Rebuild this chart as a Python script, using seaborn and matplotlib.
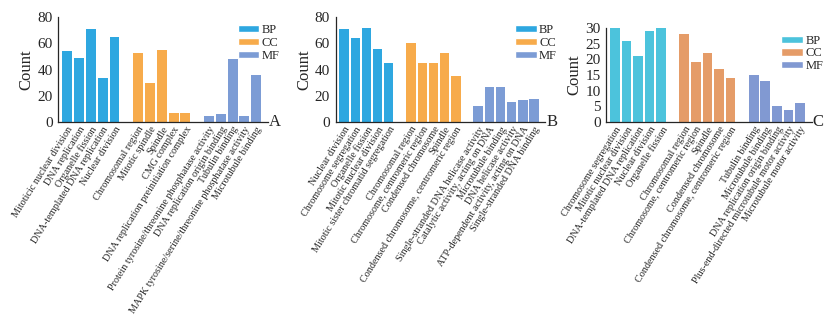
import matplotlib
matplotlib.use("Agg")
import matplotlib.pyplot as plt
import numpy as np
import pandas as pd
import seaborn as sns
from matplotlib.patches import Patch

# panel A
a_bp_terms = ["Mitoticic nuclear division", "DNA replication", "Organelle fission",
              "DNA-templated DNA replication", "Nuclear division"]
a_bp_counts = [54, 49, 71, 34, 65]
a_cc_terms = ["Chromosomal region", "Mitotic spindle", "Spindle", "CMG complex",
              "DNA replication preinitiation complex"]
a_cc_counts = [53, 30, 55, 7, 7]
a_mf_terms = ["Protein tyrosine/threonine phosphatase activity", "DNA replication origin binding",
              "Tubulin binding", "MAPK tyrosine/serine/threonine phosphatase activity",
              "Microtubule binding"]
a_mf_counts = [5, 6, 48, 5, 36]

# panel B
b_bp_terms = ["Nuclear division", "Chromosome segregation", "Organelle fission",
              "Mitotic nuclear division", "Mitotic sister chromatid segregation"]
b_bp_counts = [71, 64, 72, 56, 45]
b_cc_terms = ["Chromosomal region", "Chromosome, centromeric region", "Condensed chromosome",
              "Spindle", "Condensed chromosome, centromeric region"]
b_cc_counts = [60, 45, 45, 53, 35]
b_mf_terms = ["Single-stranded DNA helicase activity", "Catalytic activity, acting on DNA",
              "Microtubule binding", "DNA helicase activity",
              "ATP-dependent activity, acting on DNA", "Single-stranded DNA binding"]
b_mf_counts = [12, 27, 27, 15, 17, 18]

# panel C
c_bp_terms = ["Chromosome segregation", "Mitotic nuclear division", "DNA-templated DNA replication",
              "Nuclear division", "Organelle fission"]
c_bp_counts = [30, 26, 21, 29, 30]
c_cc_terms = ["Chromosomal region", "Chromosome, centromeric region", "Spindle",
              "Condensed chromosome", "Condensed chromosome, centromeric region"]
c_cc_counts = [28, 19, 22, 17, 14]
c_mf_terms = ["Tubulin binding", "Microtubule binding", "DNA replication origin binding",
              "Plus-end-directed microtubule motor activity", "Microtubule motor activity"]
c_mf_counts = [15, 13, 5, 4, 6]

PAL_AB = {"BP": "#2ea7e0", "CC": "#f7ab4b", "MF": "#7c9cd5"}
PAL_C = {"BP": "#4cc3dc", "CC": "#e59c68", "MF": "#8199d2"}


def build_frame(groups):
    rows = []
    pos = 0
    for name, terms, counts in groups:
        for t, c in zip(terms, counts):
            rows.append({"pos": pos, "term": t, "count": c, "group": name})
            pos += 1
        pos += 1  # gap between ontologies
    return pd.DataFrame(rows)


def draw_panel(ax, df, palette, ymax, step, letter):
    slots = list(range(df["pos"].max() + 1))
    sns.barplot(data=df, x="pos", y="count", hue="group", palette=palette,
                order=slots, dodge=False, width=0.84, saturation=1, linewidth=0,
                legend=False, ax=ax)
    labels = dict(zip(df["pos"], df["term"]))
    ax.set_xticks(slots)
    ax.set_xticklabels([labels.get(p, "") for p in slots], rotation=58, ha="right",
                       rotation_mode="anchor", fontsize=7.3)
    ax.tick_params(axis="x", length=0, pad=2)
    ax.tick_params(axis="y", labelsize=11, length=3, direction="out", pad=1)
    ax.set_yticks(np.arange(0, ymax + 1, step))
    ax.set_ylim(0, ymax)
    ax.set_xlim(-0.75, slots[-1] + 1.0)
    ax.set_xlabel("")
    ax.set_ylabel("Count", fontsize=12, labelpad=2)
    sns.despine(ax=ax)
    for s in ["left", "bottom"]:
        ax.spines[s].set_linewidth(0.9)
    handles = [Patch(facecolor=palette[k], label=k) for k in ["BP", "CC", "MF"]]
    ax.legend(handles=handles, loc="upper right", bbox_to_anchor=(1.08, 0.98),
              frameon=False, fontsize=9, handlelength=1.7, handleheight=0.5,
              handletextpad=0.2, labelspacing=0.05, borderaxespad=0)
    ax.text(1.005, 0.0, letter, transform=ax.transAxes, fontsize=12,
            ha="left", va="center")


sns.set_style("white")
plt.rcParams["font.family"] = ["Liberation Serif", "DejaVu Serif"]

fig = plt.figure(figsize=(8.35, 3.18), dpi=100)
ax_a = fig.add_axes([0.070, 0.616, 0.251, 0.330])
ax_b = fig.add_axes([0.402, 0.616, 0.251, 0.330])
ax_c = fig.add_axes([0.726, 0.616, 0.246, 0.296])

df_a = build_frame([("BP", a_bp_terms, a_bp_counts), ("CC", a_cc_terms, a_cc_counts),
                    ("MF", a_mf_terms, a_mf_counts)])
df_b = build_frame([("BP", b_bp_terms, b_bp_counts), ("CC", b_cc_terms, b_cc_counts),
                    ("MF", b_mf_terms, b_mf_counts)])
df_c = build_frame([("BP", c_bp_terms, c_bp_counts), ("CC", c_cc_terms, c_cc_counts),
                    ("MF", c_mf_terms, c_mf_counts)])

draw_panel(ax_a, df_a, PAL_AB, 80, 20, "A")
draw_panel(ax_b, df_b, PAL_AB, 80, 20, "B")
draw_panel(ax_c, df_c, PAL_C, 30, 5, "C")

fig.savefig("out.png", dpi=100)
